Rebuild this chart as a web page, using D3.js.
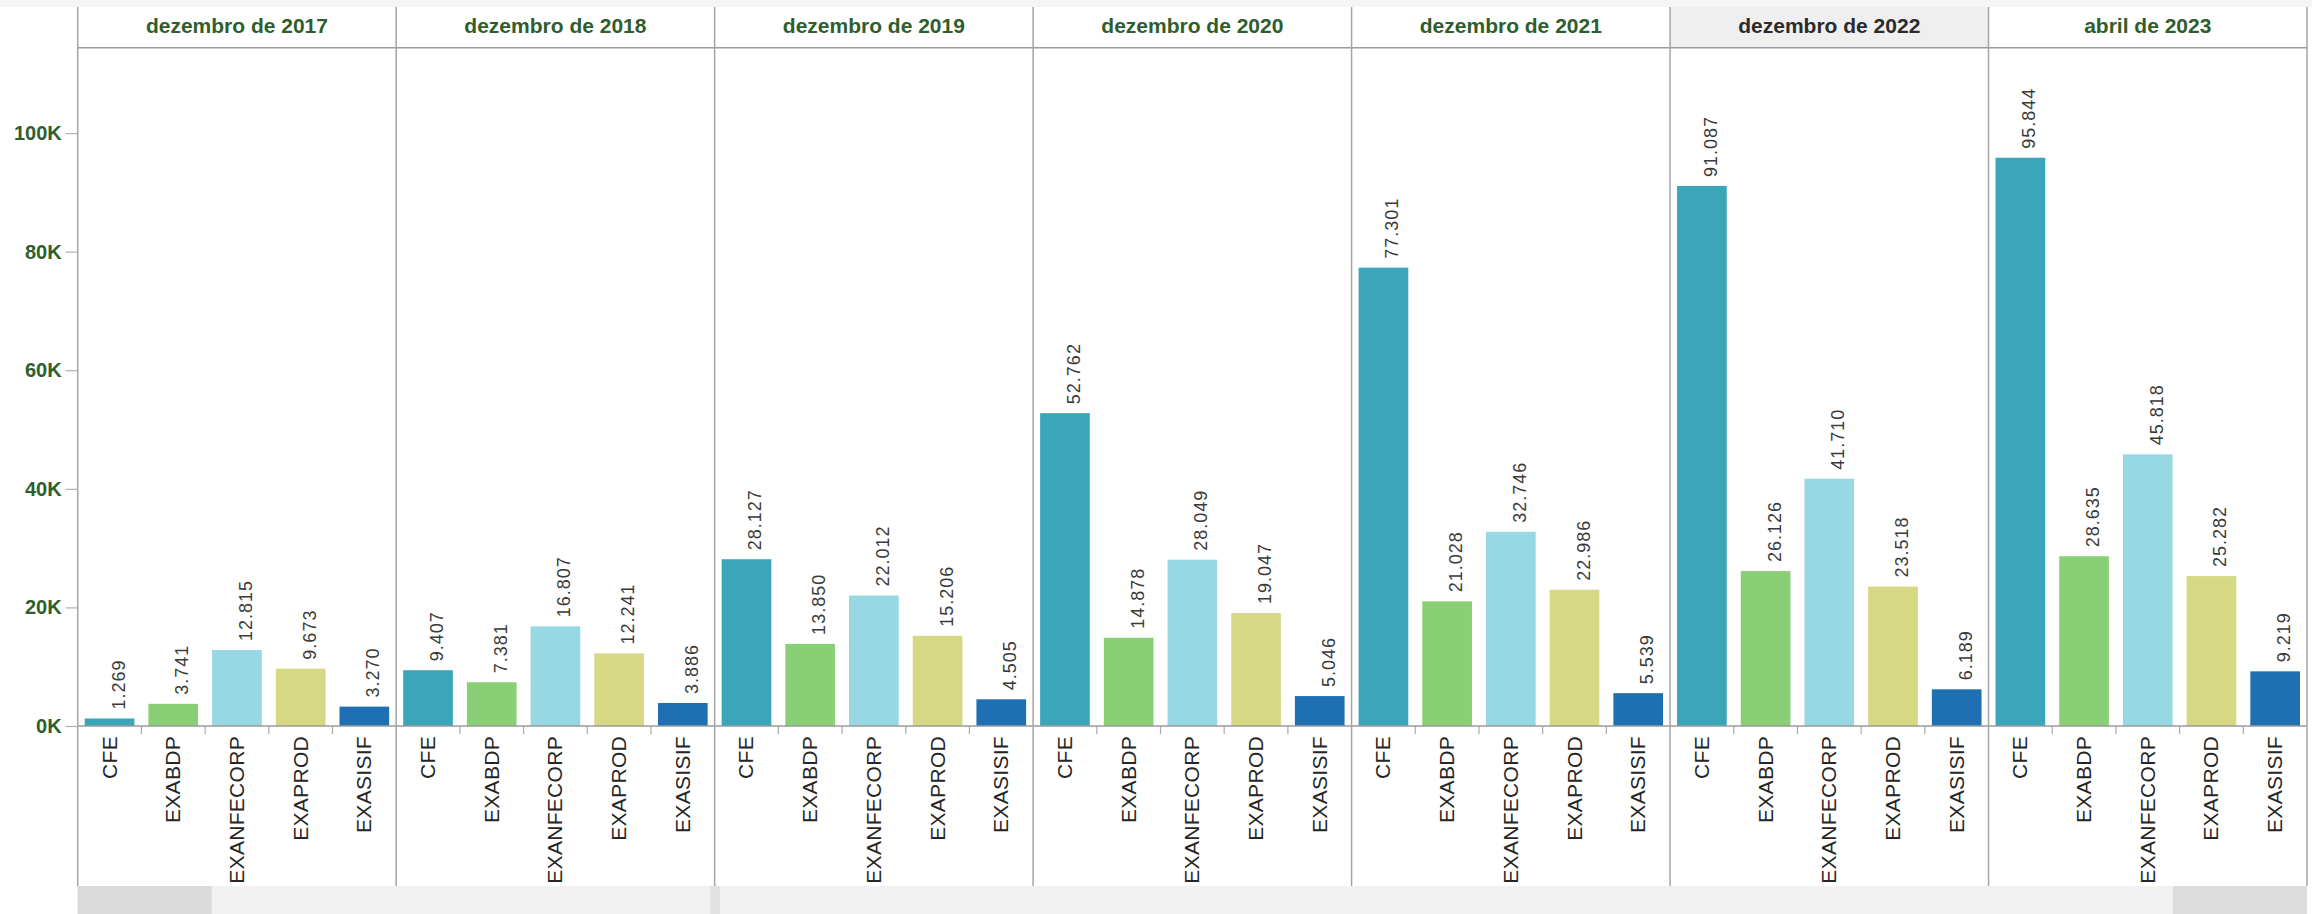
<!DOCTYPE html>
<html>
<head>
<meta charset="utf-8">
<script src="https://cdn.jsdelivr.net/npm/d3@7"></script>
<style>
  body { margin: 0; background: #fff; }
  svg { display: block; font-family: "Liberation Sans", Arial, sans-serif; }
</style>
</head>
<body>
<svg id="chart" width="2312" height="914"></svg>
<script>
// periods (panel headers) and the categories inside each panel
var periods = ["dezembro de 2017", "dezembro de 2018", "dezembro de 2019", "dezembro de 2020",
               "dezembro de 2021", "dezembro de 2022", "abril de 2023"];
var categories = ["CFE", "EXABDP", "EXANFECORP", "EXAPROD", "EXASISIF"];

// one value per period, per category
var cfe        = [1269, 9407, 28127, 52762, 77301, 91087, 95844];
var exabdp     = [3741, 7381, 13850, 14878, 21028, 26126, 28635];
var exanfecorp = [12815, 16807, 22012, 28049, 32746, 41710, 45818];
var exaprod    = [9673, 12241, 15206, 19047, 22986, 23518, 25282];
var exasisif   = [3270, 3886, 4505, 5046, 5539, 6189, 9219];

var yTicks = [0, 20000, 40000, 60000, 80000, 100000];
var highlighted = "dezembro de 2022"; // header shown in grey / dark text

var seriesByCat = {CFE: cfe, EXABDP: exabdp, EXANFECORP: exanfecorp, EXAPROD: exaprod, EXASISIF: exasisif};
var colors = {CFE: "#3ba5b9", EXABDP: "#89cf76", EXANFECORP: "#98d7e4", EXAPROD: "#d6d884", EXASISIF: "#1f70b3"};

var svg = d3.select("#chart"),
    left = 77.7, right = 2307,
    headTop = 7, headBottom = 47.7,
    base = 726, bottom = 886;

var ptBR = d3.formatLocale({decimal: ",", thousands: ".", grouping: [3], currency: ["R$", ""]});
var fmt = ptBR.format(",d");

var xPanel = d3.scaleBand().domain(periods).range([left, right]);
var xCat = d3.scaleBand().domain(categories).range([0, xPanel.bandwidth()])
    .paddingInner(0.22).paddingOuter(0.11);
var y = d3.scaleLinear().domain([0, 114400]).range([base, headBottom]);

var rows = [];
periods.forEach(function (p, i) {
    categories.forEach(function (c) {
        rows.push({period: p, cat: c, value: seriesByCat[c][i]});
    });
});

// top strip
svg.append("rect").attr("x", 0).attr("y", 0).attr("width", 2312).attr("height", headTop)
    .attr("fill", "#f5f5f5");

// highlighted header background
svg.append("rect")
    .attr("x", xPanel(highlighted)).attr("y", headTop)
    .attr("width", xPanel.bandwidth()).attr("height", headBottom - headTop)
    .attr("fill", "#efefef");

// bottom scroll band
var band = svg.append("g");
band.append("rect").attr("x", left).attr("y", bottom).attr("width", right - left).attr("height", 914 - bottom)
    .attr("fill", "#f1f1f1");
band.append("rect").attr("x", left).attr("y", bottom).attr("width", 134).attr("height", 914 - bottom)
    .attr("fill", "#dadada");
band.append("rect").attr("x", 2173).attr("y", bottom).attr("width", right - 2173).attr("height", 914 - bottom)
    .attr("fill", "#dcdcdc");
band.append("rect").attr("x", 710).attr("y", bottom).attr("width", 10).attr("height", 914 - bottom)
    .attr("fill", "#e2e2e2");

var panels = svg.selectAll("g.panel").data(periods).enter().append("g")
    .attr("class", "panel")
    .attr("transform", function (d) { return "translate(" + xPanel(d) + ",0)"; });

// bars
panels.selectAll("rect.bar")
    .data(function (p) { return rows.filter(function (r) { return r.period === p; }); })
    .enter().append("rect")
    .attr("class", "bar")
    .attr("x", function (d) { return xCat(d.cat); })
    .attr("width", xCat.bandwidth())
    .attr("y", function (d) { return y(d.value); })
    .attr("height", function (d) { return base - y(d.value); })
    .attr("fill", function (d) { return colors[d.cat]; });

// value labels
panels.selectAll("text.val")
    .data(function (p) { return rows.filter(function (r) { return r.period === p; }); })
    .enter().append("text")
    .attr("class", "val")
    .attr("transform", function (d) {
        return "translate(" + (xCat(d.cat) + xCat.bandwidth() / 2 + 15) + "," + (y(d.value) - 9) + ") rotate(-90)";
    })
    .attr("font-size", 18)
    .attr("letter-spacing", 1)
    .attr("fill", "#3a3a3a")
    .text(function (d) { return fmt(d.value); });

// category labels
panels.selectAll("text.cat")
    .data(categories)
    .enter().append("text")
    .attr("class", "cat")
    .attr("transform", function (d) {
        return "translate(" + (xCat(d) + xCat.bandwidth() / 2 + 7) + "," + (base + 10) + ") rotate(-90)";
    })
    .attr("text-anchor", "end")
    .attr("font-size", 21)
    .attr("letter-spacing", 0.3)
    .attr("fill", "#262626")
    .text(function (d) { return d; });

// x ticks between categories
panels.selectAll("line.xt")
    .data(categories.slice(1))
    .enter().append("line")
    .attr("class", "xt")
    .attr("x1", function (d) { return xCat(d) - xCat.step() * xCat.paddingInner() / 2; })
    .attr("x2", function (d) { return xCat(d) - xCat.step() * xCat.paddingInner() / 2; })
    .attr("y1", base).attr("y2", base + 8)
    .attr("stroke", "#aaa").attr("stroke-width", 1.2);

// headers
panels.append("text")
    .attr("x", xPanel.bandwidth() / 2)
    .attr("y", 33)
    .attr("text-anchor", "middle")
    .attr("font-size", 21)
    .attr("font-weight", "bold")
    .attr("fill", function (d) { return d === highlighted ? "#2b2b2b" : "#2e5e2c"; })
    .text(function (d) { return d; });

// baseline
svg.append("line").attr("x1", left).attr("x2", right).attr("y1", base).attr("y2", base)
    .attr("stroke", "#9a9a9a").attr("stroke-width", 1.5);

// header bottom line
svg.append("line").attr("x1", left).attr("x2", right).attr("y1", headBottom).attr("y2", headBottom)
    .attr("stroke", "#9c9c9c").attr("stroke-width", 1.5);

// panel dividers
var edges = periods.map(function (p) { return xPanel(p); }).concat([right]);
svg.selectAll("line.div").data(edges).enter().append("line")
    .attr("class", "div")
    .attr("x1", function (d) { return d; }).attr("x2", function (d) { return d; })
    .attr("y1", headTop).attr("y2", bottom)
    .attr("stroke", "#a4a4a4").attr("stroke-width", 1.5);

// y axis
var yAxis = d3.axisLeft(y).tickValues(yTicks).tickSize(12).tickPadding(4)
    .tickFormat(function (d) { return (d / 1000) + "K"; });
var gy = svg.append("g").attr("transform", "translate(" + left + ",0)").call(yAxis);
gy.select(".domain").remove();
gy.selectAll(".tick line").attr("stroke", "#b0b0b0").attr("stroke-width", 1.2);
gy.selectAll(".tick text")
    .attr("font-family", "Liberation Sans, Arial, sans-serif")
    .attr("font-size", 20)
    .attr("font-weight", "bold")
    .attr("fill", "#2e5e2c");
</script>
</body>
</html>
